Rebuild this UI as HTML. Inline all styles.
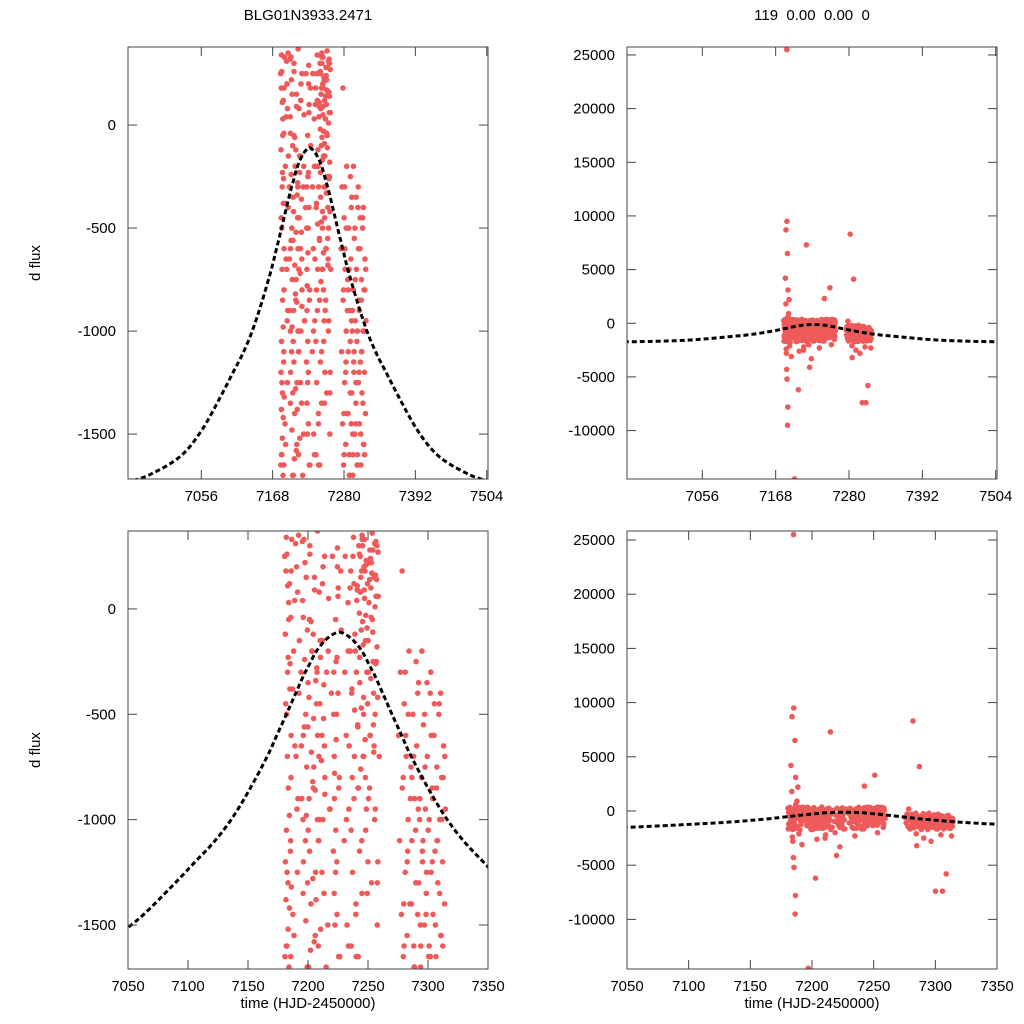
<!DOCTYPE html>
<html><head><meta charset="utf-8"><style>
html,body{margin:0;background:#fff;overflow:hidden;width:1024px;height:1024px;}
svg{display:block;font-family:"Liberation Sans",Arial,sans-serif;}
</style></head><body>
<svg id="fig" width="1024" height="1024" viewBox="0 0 1024 1024"></svg>
<script>
const times=[7180.5,7181.2,7181.9,7182.4,7183.0,7183.6,7184.1,7184.7,7185.2,7185.8,7186.3,7186.9,7187.4,7188.0,7188.6,7189.1,7189.7,7190.2,7190.8,7191.3,7191.9,7192.4,7180.8,7181.6,7182.2,7182.9,7183.3,7184.0,7184.4,7185.0,7185.5,7186.1,7186.6,7187.2,7187.8,7188.3,7188.9,7189.4,7190.0,7190.5,7191.1,7191.6,7192.2,7192.8,7183.8,7185.4,7186.8,7184.9,
7195.3,7196.1,7197.0,7197.8,7198.5,7199.3,7200.1,7200.9,7201.6,7202.4,7203.2,7204.0,7204.8,7205.5,7206.3,7207.1,7207.9,7208.6,7209.4,7210.2,7211.0,7211.7,7212.5,7213.3,7214.1,7214.9,7215.6,7216.4,7217.2,7218.0,7218.7,7219.5,7220.3,7221.1,7221.8,7222.6,7223.4,7224.2,7225.0,7225.7,7226.5,7227.3,7195.8,7196.6,7198.1,7199.7,7201.2,7202.8,7204.4,7206.0,7207.5,7209.0,7210.6,7212.1,7213.7,7215.2,7216.8,7218.3,7219.9,7221.4,7223.0,7224.6,7226.1,7227.7,
7230.2,7231.0,7231.8,7232.5,7233.3,7234.1,7234.8,7235.6,7236.4,7237.1,7237.9,7238.7,7239.4,7240.2,7241.0,7241.7,7242.5,7243.2,7244.0,7244.8,7245.5,7246.3,7247.1,7247.8,7248.6,7249.4,7250.1,7250.9,7251.7,7252.4,7253.2,7254.0,7254.7,7255.5,7256.3,7257.0,7257.8,7258.6,7259.3,7230.6,7232.1,7233.7,7235.2,7236.8,7238.3,7239.8,7241.4,7242.9,7244.4,7245.9,7247.5,7249.0,7250.5,7252.0,7253.6,7255.1,7256.6,7258.2,7243.6,7246.7,7248.2,7251.3,7254.3,7257.4,7245.1,7249.8,7252.8,7255.9,
7278.4,7279.3,7280.1,7281.0,7281.9,7282.7,7283.6,7284.5,7285.3,7286.2,7287.1,7288.0,7288.8,7289.7,7290.6,7291.4,7292.3,7293.2,7294.0,7294.9,7295.8,7296.6,7297.5,7298.4,7299.2,7300.1,7301.0,7301.9,7302.7,7303.6,7304.5,7305.3,7306.2,7307.1,7307.9,7308.8,7309.7,7310.5,7311.4,7312.3,7313.1,7314.0,7279.8,7281.4,7283.1,7284.9,7286.6,7288.4,7290.1,7291.9,7293.6,7295.3,7297.1,7298.8,7300.6,7302.3,7304.0,7305.8,7307.5,7309.3,7311.0,7312.7,
7181.1,7181.7,7182.3,7182.8,7183.4,7183.9,7184.5,7185.1,7185.6,7186.0,7181.4,7182.0,7182.6,7183.1,7183.7,7184.2,7184.8,7185.3,7185.9,7186.4,7181.9,7183.5,7184.6,7185.7,7186.2,
7194.2,7194.8,7195.5,7196.2,7196.9,7197.5,7198.2,7198.9,7199.5,7200.2,7200.8,7201.5,7202.1,7202.8,7203.4,7204.1,7204.7,7205.4,7206.0,7206.7,7207.3,7208.0,7208.6,7209.3,7209.9,7210.6,7211.2,7211.9,7212.5,7213.2,7213.8,7194.5,7195.9,7197.2,7198.6,7199.9,7201.3,7202.6,7203.9,7205.2,7206.5,7207.8,7209.1,7210.4,7211.7,7213.0,7214.0,7196.0,7200.5,7204.4,
7221.5,7222.0,7222.5,7223.0,7223.5,7224.0,7224.5,7225.0,7225.5,7222.2,7223.2,7224.2,7225.2,7221.8,7223.8,
7233.5,7234.3,7235.1,7235.9,7236.7,7237.5,7238.3,7239.1,7239.9,7240.7,7241.5,7242.3,7243.1,7243.9,7244.7,7245.5,7246.3,7247.1,7247.9,7248.7,7249.5,7250.3,7251.1,7251.9,7252.7,7253.5,7254.3,7255.1,7255.9,7256.7,7257.5,7258.3,7240.3,7241.1,7242.0,7242.8,7243.6,7244.4,7245.2,7246.0,7246.8,7247.6,7248.4,7249.2,7250.0,7250.8,7251.6,7252.4,7253.2,7254.0,7254.8,7255.6,7256.4,7257.2,7258.0,7243.0,7244.9,7246.5,7248.1,7249.7,7251.3,7252.9,7254.5,7256.1,7257.7,7236.0,7238.8,7241.9,
7275.5,7276.3,7277.0,7277.8,7278.6,7279.4,7280.2,7281.0,7281.8,7282.6,7283.4,7284.2,7285.0,7285.8,7286.6,7287.4,7288.2,7289.0,7289.8,7290.6,7291.4,7292.2,7293.0,7293.8,7294.6,7295.4,7296.2,7297.0,7297.8,7298.6,7299.4,7300.2,7301.0,7301.8,7302.6,7303.4,7304.2,7305.0,7305.8,7306.6,7307.4,7308.2,7309.0,7309.8,7310.6,7311.4,7312.2,7313.0,7313.8,7314.5];
const fluxes=[250,-1200,340,-1600,-300,1800,-2400,120,9500,-800,-9500,600,-1450,-200,2200,-650,310,-1750,-950,80,-3100,-400,-1650,180,-500,4200,-1300,-50,-2800,25500,-1100,6500,-7800,-380,900,-1550,40,-2100,-700,200,-1250,-900,350,-150,8700,-5200,3100,-4300,
320,-600,-14500,-1100,150,-1700,-350,-900,260,-1400,-200,-2600,-750,90,-1250,-450,370,-1600,-1000,-150,-2200,-600,200,-1350,-800,7300,-300,-1500,50,-950,-2000,-400,250,-1150,-700,-3300,-250,-1450,60,-850,-1650,180,-1000,330,-500,-1300,-50,-6200,-850,-1550,-300,-1100,-2500,120,-650,-1700,-200,-950,-4100,-500,-1250,290,-800,-100,
-1100,250,-600,-1500,30,-950,-2300,180,-400,-1250,340,-700,-200,-1650,90,-850,2300,-350,150,-1100,300,-500,50,-800,210,-1350,-150,3300,-600,100,-2000,280,-400,-1000,160,-250,-1300,60,-700,-300,-1000,-1600,-200,-800,120,-1450,-550,260,-100,-700,180,-300,-900,240,-50,-650,320,-1200,80,200,-30,140,-250,300,350,-150,220,10,
180,-800,-1600,-300,8300,-1200,-500,-2100,-900,-1400,4100,-700,-1700,-1050,-2500,-400,-1300,-900,-1600,-200,-1100,-2800,-750,-1450,-350,-7400,-1000,-1650,-600,-1200,-2200,-450,-1500,-850,-1100,-5800,-1350,-400,-1000,-1600,-2300,-700,-1400,-600,-1150,-3200,-800,-1700,-250,-950,-1500,-1150,-500,-1250,-1650,-300,-900,-7400,-1100,-450,-1550,-800,
-120,-1380,260,-700,-1520,30,-980,-260,-1650,180,-450,-1050,-1250,110,-850,-1700,-380,-1150,-600,330,-1600,-230,-1420,-40,-1320,
-300,-900,40,-1200,-560,220,-1480,-750,-100,-1050,-420,300,-1620,-680,-200,-1280,-520,150,-860,-1380,-280,-600,-1100,80,-450,-1520,-720,-150,-1000,-360,250,-650,-1350,-240,-980,-560,-1150,-60,-820,-1580,-340,-1000,-700,-230,-1250,-520,-880,-40,-1700,-120,
-300,-900,-1500,-50,-620,-1200,200,-400,-1650,-780,-1050,-230,100,-1350,-500,
-200,-650,100,-1050,-380,250,-900,-120,-1400,40,-560,300,-230,-760,180,-60,-420,330,-150,-950,120,-300,220,-600,-40,360,-250,150,-500,60,-180,270,-300,110,-850,-20,250,-470,330,-170,90,-620,230,-90,-1200,30,280,-330,170,-110,-680,310,-260,140,-420,-1150,-1350,-700,-1050,-450,-850,-1300,-550,-950,-1500,-1600,-480,-1650,
-600,-1100,-300,-1450,-850,-1650,-450,-1250,-700,-1550,-1000,-200,-1400,-750,-1100,-500,-1600,-900,-1300,-650,-1450,-350,-1000,-1700,-800,-1200,-550,-1500,-950,-1350,-700,-1050,-1600,-400,-1250,-850,-1450,-600,-1150,-1650,-750,-1300,-500,-1000,-1550,-800,-1200,-650,-1400,-950];
// model curve, symmetric about its peak time
const modelPeakTime=7226;
const modelDt=[0,5,10,15,20,25,30,37,44,52,60,75,90,105,120,140,169,200,240,284,400];
const modelFlux=[-110,-120,-140,-170,-210,-265,-320,-410,-500,-600,-700,-860,-1000,-1110,-1200,-1320,-1480,-1600,-1680,-1730,-1800];
const xTicksTop=[7056,7168,7280,7392,7504];
const xTicksBottom=[7050,7100,7150,7200,7250,7300,7350];
const yTicksLeftTop=[0,-500,-1000,-1500];
const yTicksLeftBottom=[0,-500,-1000,-1500];
const yTicksRight=[25000,20000,15000,10000,5000,0,-5000,-10000];

const NS='http://www.w3.org/2000/svg';
const svg=document.getElementById('fig');
function el(tag,attrs,parent){const e=document.createElementNS(NS,tag);for(const k in attrs)e.setAttribute(k,attrs[k]);(parent||svg).appendChild(e);return e;}

const panels=[
 {name:'top-left',L:128,R:488,T:47,B:479,x0:6941,x1:7506,y0:-1718,y1:379,xt:xTicksTop,yt:yTicksLeftTop,ylab:true,xlab:false},
 {name:'top-right',L:627,R:997,T:47,B:479,x0:6941,x1:7506,y0:-14512,y1:25740,xt:xTicksTop,yt:yTicksRight,ylab:false,xlab:false},
 {name:'bottom-left',L:128,R:488,T:531,B:969,x0:7050,x1:7350,y0:-1709,y1:370,xt:xTicksBottom,yt:yTicksLeftBottom,ylab:true,xlab:true},
 {name:'bottom-right',L:627,R:997,T:531,B:969,x0:7050,x1:7350,y0:-14576,y1:25830,xt:xTicksBottom,yt:yTicksRight,ylab:false,xlab:true}
];

// full model point list (left half mirrored)
const modelPts=[];
for(let i=modelDt.length-1;i>0;i--)modelPts.push([modelPeakTime-modelDt[i],modelFlux[i]]);
for(let i=0;i<modelDt.length;i++)modelPts.push([modelPeakTime+modelDt[i],modelFlux[i]]);

panels.forEach(p=>{
 const g=el('g',{});
 
 
 const X=v=>p.L+(v-p.x0)/(p.x1-p.x0)*(p.R-p.L);
 const Y=v=>p.B-(v-p.y0)/(p.y1-p.y0)*(p.B-p.T);
 const cid='clip-'+p.name;
 const cp=el('clipPath',{id:cid},g);el('rect',{x:p.L,y:p.T,width:p.R-p.L,height:p.B-p.T},cp);
 const pts=el('g',{'clip-path':'url(#'+cid+')'},g);
 
 
 for(let i=0;i<times.length;i++){
  const c=el('circle',{cx:X(times[i]).toFixed(1),cy:Y(fluxes[i]).toFixed(1),r:2.8,fill:'#ee5a5a'},pts);
  
  
 }
 const P=modelPts.map(q=>[X(q[0]),Y(q[1])]);
 let d='M'+P[0][0].toFixed(1)+','+P[0][1].toFixed(1);
 for(let i=0;i<P.length-1;i++){
  const p0=P[Math.max(0,i-1)],p1=P[i],p2=P[i+1],p3=P[Math.min(P.length-1,i+2)];
  const c1=[p1[0]+(p2[0]-p0[0])/6,p1[1]+(p2[1]-p0[1])/6];
  const c2=[p2[0]-(p3[0]-p1[0])/6,p2[1]-(p3[1]-p1[1])/6];
  d+='C'+c1[0].toFixed(1)+','+c1[1].toFixed(1)+' '+c2[0].toFixed(1)+','+c2[1].toFixed(1)+' '+p2[0].toFixed(1)+','+p2[1].toFixed(1);
 }
 const ml=el('path',{d:d,fill:'none',stroke:'#000','stroke-width':3,'stroke-dasharray':'5,3','clip-path':'url(#'+cid+')'},g);
 
 
 const fr=el('rect',{x:p.L,y:p.T,width:p.R-p.L,height:p.B-p.T,fill:'none',stroke:'#444','stroke-width':1},g);
 
 
 p.xt.forEach(v=>{
  const x=X(v);
  el('line',{x1:x,x2:x,y1:p.B,y2:p.B-9,stroke:'#444'},g);
  el('line',{x1:x,x2:x,y1:p.T,y2:p.T+9,stroke:'#444'},g);
  const t=el('text',{x:x,y:p.B+22,'font-size':15,'text-anchor':'middle',fill:'#000'},g);t.textContent=v;
  
  
 });
 p.yt.forEach(v=>{
  const y=Y(v);
  el('line',{x1:p.L,x2:p.L+9,y1:y,y2:y,stroke:'#444'},g);
  el('line',{x1:p.R,x2:p.R-9,y1:y,y2:y,stroke:'#444'},g);
  const t=el('text',{x:p.L-12,y:y+5,'font-size':15,'text-anchor':'end',fill:'#000'},g);t.textContent=v;
  
  
 });
 if(p.ylab){const t=el('text',{x:40,y:(p.T+p.B)/2,'font-size':15,'text-anchor':'middle',transform:'rotate(-90 40 '+(p.T+p.B)/2+')'},g);t.textContent='d flux';
  
  }
 if(p.xlab){const t=el('text',{x:(p.L+p.R)/2,y:1008,'font-size':15,'text-anchor':'middle'},g);t.textContent='time (HJD-2450000)';
  
  }
});
const t1=el('text',{x:308,y:20,'font-size':15,'text-anchor':'middle'});t1.textContent='BLG01N3933.2471';


const t2=el('text',{x:812,y:20,'font-size':15,'text-anchor':'middle',style:'white-space:pre'});t2.textContent='119  0.00  0.00  0';


</script>
</body></html>
